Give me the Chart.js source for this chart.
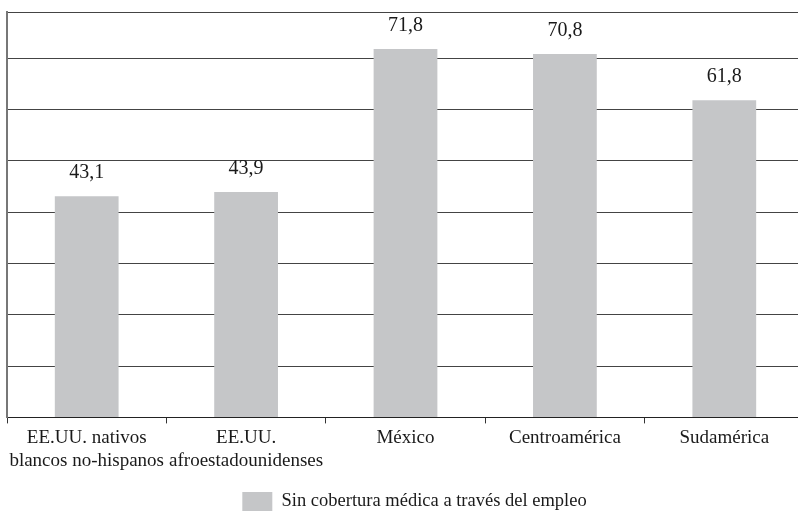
<!DOCTYPE html>
<html>
<head>
<meta charset="utf-8">
<script src="https://cdn.jsdelivr.net/npm/chart.js@4/dist/chart.umd.min.js"></script>
<style>
  html, body { margin: 0; padding: 0; background: #ffffff; overflow: hidden; }
  #wrap { width: 804px; height: 512px; }
</style>
</head>
<body>
<div id="wrap"><canvas id="chart"></canvas></div>
<script>
// Categories (multi-line labels) and percentages without employer-based coverage
const categories = [
  ['EE.UU. nativos', 'blancos no-hispanos'],
  ['EE.UU.', 'afroestadounidenses'],
  'México',
  'Centroamérica',
  'Sudamérica'
];
const sinCobertura = [43.1, 43.9, 71.8, 70.8, 61.8];
const seriesLabel = 'Sin cobertura médica a través del empleo';

const serif = "'Liberation Serif', 'DejaVu Serif', serif";

// Writes each bar's value (comma decimal) just above its top
const valueLabels = {
  id: 'valueLabels',
  afterDatasetsDraw(chart) {
    const ctx = chart.ctx;
    const meta = chart.getDatasetMeta(0);
    ctx.save();
    ctx.font = '20px ' + serif;
    ctx.fillStyle = '#1a1a1a';
    ctx.textAlign = 'center';
    ctx.textBaseline = 'alphabetic';
    meta.data.forEach((bar, i) => {
      const txt = sinCobertura[i].toFixed(1).replace('.', ',');
      ctx.fillText(txt, bar.x, bar.y - 18);
    });
    ctx.restore();
  }
};

// Nudges the legend row a little to the right of the canvas centre
const legendShift = {
  id: 'legendShift',
  afterLayout(chart) {
    if (chart.legend) {
      chart.legend.left += 9;
      chart.legend.right += 9;
    }
  }
};

new Chart(document.getElementById('chart'), {
  type: 'bar',
  data: {
    labels: categories,
    datasets: [{
      label: seriesLabel,
      data: sinCobertura,
      backgroundColor: '#c5c6c8',
      borderWidth: 0,
      barPercentage: 0.8,
      categoryPercentage: 0.5
    }]
  },
  options: {
    responsive: true,
    maintainAspectRatio: false,
    animation: false,
    layout: { padding: { left: 7, right: 0, top: 12, bottom: -9 } },
    plugins: {
      legend: {
        position: 'bottom',
        labels: {
          boxWidth: 30,
          boxHeight: 19,
          padding: 17,
          color: '#1a1a1a',
          font: { family: serif, size: 18.5 }
        }
      },
      tooltip: { enabled: false }
    },
    scales: {
      x: {
        grid: { drawOnChartArea: false, drawTicks: true, tickLength: 6, color: '#333' },
        border: { color: '#222', width: 1 },
        ticks: {
          color: '#1a1a1a',
          padding: 3,
          maxRotation: 0,
          autoSkip: false,
          font: { family: serif, size: 19, lineHeight: 1.2 }
        }
      },
      y: {
        min: 0,
        max: 79,
        ticks: { display: false, stepSize: 10 },
        grid: { color: '#444', lineWidth: 1, drawTicks: false },
        border: { color: '#777', width: 2 }
      }
    }
  },
  plugins: [valueLabels, legendShift]
});
</script>
</body>
</html>
